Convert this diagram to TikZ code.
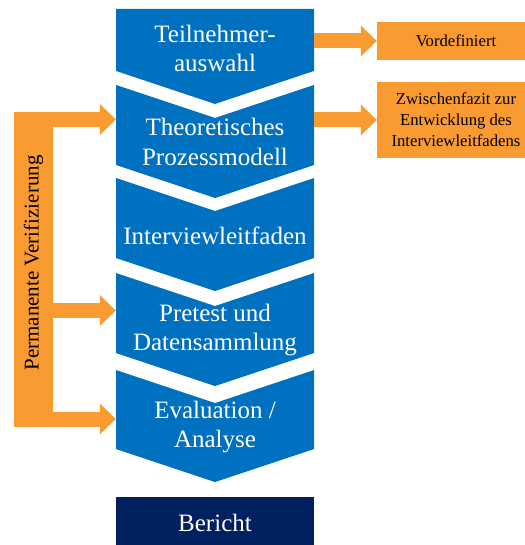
\documentclass[tikz,border=0pt]{standalone}
\usepackage{fontspec}
\setmainfont{Liberation Serif}
\usetikzlibrary{arrows.meta}
\definecolor{stepblue}{RGB}{0,112,192}
\definecolor{reportblue}{RGB}{0,32,96}
\definecolor{noteorange}{RGB}{250,155,50}

\begin{document}
\begin{tikzpicture}[x=1pt,y=-1pt,
  phase node/.style={text=white,align=center,inner sep=0pt,minimum width=198pt,font=\fontsize{25}{29.5}\selectfont},
  side node/.style={fill=noteorange,text=black,align=center,inner sep=0pt,minimum width=158pt,font=\fontsize{16.7}{21}\selectfont},
  orange arrow/.style={noteorange,line width=15pt,-{Triangle[length=16pt,width=31pt,line width=0pt]}}]

  \useasboundingbox (0,0) rectangle (524,545);

  % chevrons
  \fill[stepblue] (116,9) -- (314,9) -- (314,71) -- (215,104) -- (116,71) -- cycle;
  \fill[stepblue] (116,85) -- (215,118) -- (314,85) -- (314,165) -- (215,198) -- (116,165) -- cycle;
  \fill[stepblue] (116,178) -- (215,211) -- (314,178) -- (314,258) -- (215,291) -- (116,258) -- cycle;
  \fill[stepblue] (116,273) -- (215,306) -- (314,273) -- (314,353) -- (215,386) -- (116,353) -- cycle;
  \fill[stepblue] (116,370) -- (215,403) -- (314,370) -- (314,449) -- (215,482) -- (116,449) -- cycle;

  \node[phase node] (1) at (215,48.5) {Teilnehmer-\\auswahl};
  \node[phase node] (2) at (215,142) {Theoretisches\\Prozessmodell};
  \node[phase node] (3) at (215,236) {Interviewleitfaden};
  \node[phase node] (4) at (215,330) {Pretest und\\Datensammlung};
  \node[phase node] (5) at (215,427) {Evaluation /\\Analyse};
  \node[phase node,fill=reportblue,minimum height=52pt] (6) at (215,523) {Bericht};

  \node[side node,minimum height=38pt] (v) at (456,41) {Vordefiniert};
  \node[side node,minimum height=76pt] (z) at (456,120) {Zwischenfazit zur\\Entwicklung des\\Interviewleitfadens};

  \node[fill=noteorange,rotate=90,inner sep=0pt,minimum width=315pt,minimum height=39pt,
    font=\fontsize{21}{25}\selectfont] (p) at (33.5,269.5) {\hspace*{13pt}Permanente Verifizierung};

  \coordinate (a2) at ([yshift=22.5pt]2.west);
  \coordinate (a4) at ([yshift=19.5pt]4.west);
  \coordinate (a5) at ([yshift=8pt]5.west);

  \draw[orange arrow] ([xshift=-1pt]a2 -| p.south) -- (a2);
  \draw[orange arrow] ([xshift=-1pt]a4 -| p.south) -- (a4);
  \draw[orange arrow] ([xshift=-1pt]a5 -| p.south) -- (a5);
  \draw[orange arrow] (v.west -| 1.east) -- (v.west);
  \draw[orange arrow] (z.west -| 2.east) -- (z.west);
\end{tikzpicture}
\end{document}
